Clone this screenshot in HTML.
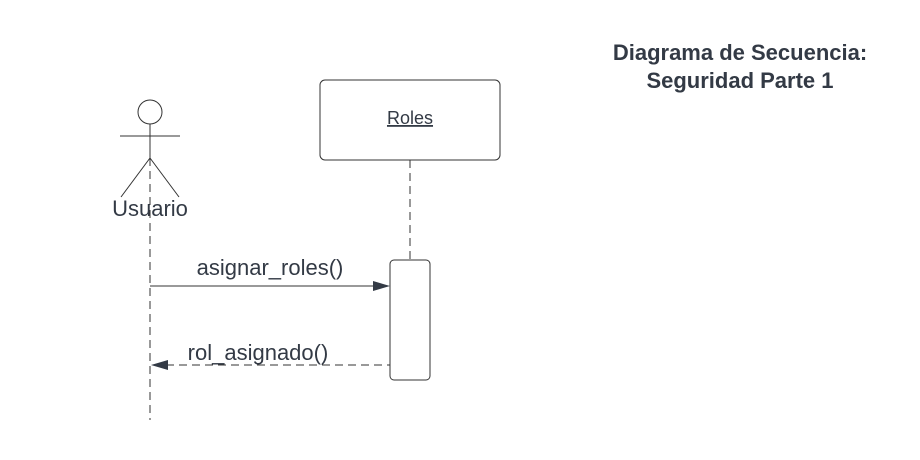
<!DOCTYPE html>
<html><head><style>
html,body{margin:0;padding:0;background:#fff;}
svg{display:block;}
text{font-family:"Liberation Sans",sans-serif;fill:#333a45;}
</style></head><body>
<svg width="920" height="460" viewBox="0 0 920 460">
<text x="740" y="60" font-size="22" font-weight="bold" text-anchor="middle">Diagrama de Secuencia:</text>
<text x="740" y="88" font-size="22" font-weight="bold" text-anchor="middle">Seguridad Parte 1</text>
<rect x="320" y="80" width="180" height="80" rx="5" fill="#fff" stroke="#333" stroke-width="1"/>
<text x="410" y="124" font-size="18" text-anchor="middle" text-decoration="underline">Roles</text>
<line x1="410" y1="160" x2="410" y2="260" stroke="#333" stroke-dasharray="8,5"/>
<circle cx="150" cy="112" r="12" fill="#fff" stroke="#333"/>
<line x1="120" y1="136" x2="180" y2="136" stroke="#333"/>
<line x1="150" y1="124" x2="150" y2="158" stroke="#333"/>
<line x1="150" y1="158" x2="121" y2="197" stroke="#333"/>
<line x1="150" y1="158" x2="179" y2="197" stroke="#333"/>
<text x="150" y="216" font-size="22" text-anchor="middle">Usuario</text>
<line x1="150" y1="158" x2="150" y2="420" stroke="#333" stroke-dasharray="8,5"/>
<rect x="390" y="260" width="40" height="120" rx="4" fill="#fff" stroke="#333"/>
<line x1="150" y1="286" x2="374" y2="286" stroke="#333"/>
<polygon points="390,286 373,281 373,291" fill="#333a45"/>
<text x="270" y="275" font-size="22" text-anchor="middle">asignar_roles()</text>
<line x1="166" y1="365" x2="390" y2="365" stroke="#333" stroke-dasharray="8,5"/>
<polygon points="151,365 168,360 168,370" fill="#333a45"/>
<text x="258" y="360" font-size="22" text-anchor="middle">rol_asignado()</text>
</svg>
</body></html>
